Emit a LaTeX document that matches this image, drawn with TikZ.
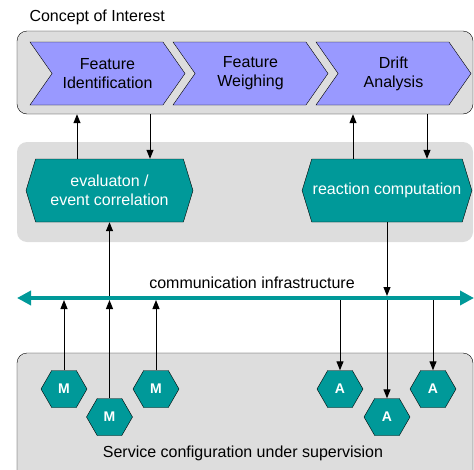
\documentclass[tikz,border=0pt]{standalone}
\usepackage{fontspec}
\setmainfont{Liberation Sans}
\usetikzlibrary{shapes.symbols,arrows.meta}
\definecolor{chev}{HTML}{9999FF}
\definecolor{petrol}{HTML}{009999}
\definecolor{panel}{HTML}{DDDDDD}
\begin{document}
\begin{tikzpicture}[x=1pt,y=-1pt,
    font=\fontsize{16}{19}\selectfont,
    box/.style={draw,fill=panel,rounded corners=10pt,inner sep=0pt},
    chevron/.style={shape=signal,signal from=west,signal to=east,signal pointer angle=110,
        draw,fill=chev,minimum width=155pt,minimum height=63pt,align=center,inner sep=1pt},
    hexbox/.style={shape=signal,signal to=east and west,signal pointer angle=146,
        draw,fill=petrol,text=white,minimum height=63pt,align=center,inner sep=1pt},
    unit/.style={shape=signal,signal to=east and west,signal pointer angle=120,
        draw,fill=petrol,text=white,minimum width=46pt,minimum height=37pt,inner sep=0pt,
        font=\fontsize{14}{16}\selectfont\bfseries},
    link/.style={-{Triangle[width=7pt,length=9pt]},line width=1pt}]
    \useasboundingbox (0,0) rectangle (474,469);
    % the three layers
    \node[anchor=west] (title) at (26,17) {Concept of Interest};
    \node[box,minimum width=456pt,minimum height=83pt] (coi) at (245,72.5) {};
    \node[box,draw=none,minimum width=456pt,minimum height=100pt] (proc) at (245,192) {};
    \node[box,minimum width=456pt,minimum height=132pt] (svc) at (245,419) {};
    \node (svclabel) at (243,453) {Service configuration under supervision};
    % concept chain
    \node[chevron] (ident) at (107.5,73.5) {Feature\\Identification};
    \node[chevron] (weigh) at (250.5,73.5) {Feature\\Weighing};
    \node[chevron] (drift) at (393.5,73.5) {Drift\\Analysis};
    % processing
    \node[hexbox,minimum width=167pt] (eval) at (109.5,190.5) {evaluaton /\\event correlation};
    \node[hexbox,minimum width=168pt] (react) at (387,190.5) {reaction computation};
    % bus
    \coordinate (commW) at (17,298);
    \coordinate (commE) at (474,298);
    \draw[petrol,line width=4pt,{Triangle[length=14pt,width=14pt]}-{Triangle[length=14pt,width=14pt]}] (commW) -- (commE);
    \node (commlabel) at (252,283) {communication infrastructure};
    % monitors and actors
    \node[unit] (m1) at (64,389) {M};
    \node[unit] (m2) at (109.5,417) {M};
    \node[unit] (m3) at (156,389) {M};
    \node[unit] (a1) at (340,389) {A};
    \node[unit] (a2) at (387,417) {A};
    \node[unit] (a3) at (433,389) {A};
    % links to the concept layer
    \coordinate (evalup) at ([xshift=-32.5pt]eval.north);
    \coordinate (evaldown) at ([xshift=40.5pt]eval.north);
    \coordinate (reactup) at ([xshift=-34pt]react.north);
    \coordinate (reactdown) at ([xshift=40pt]react.north);
    \draw[link] (evalup) -- (evalup |- coi.south);
    \draw[link] (evaldown |- coi.south) -- (evaldown);
    \draw[link] (reactup) -- (reactup |- coi.south);
    \draw[link] (reactdown |- coi.south) -- (reactdown);
    % links over the bus
    \draw[link,shorten <=2pt] (eval.south |- commW) -- (eval.south);
    \draw[link,shorten >=2pt] (react.south) -- (react.south |- commW);
    \foreach \m in {m1,m2,m3}
        \draw[link,shorten >=2pt] (\m.north) -- (\m.north |- commW);
    \foreach \a in {a1,a2,a3}
        \draw[link,shorten <=2pt] (\a.north |- commW) -- (\a.north);
\end{tikzpicture}
\end{document}
